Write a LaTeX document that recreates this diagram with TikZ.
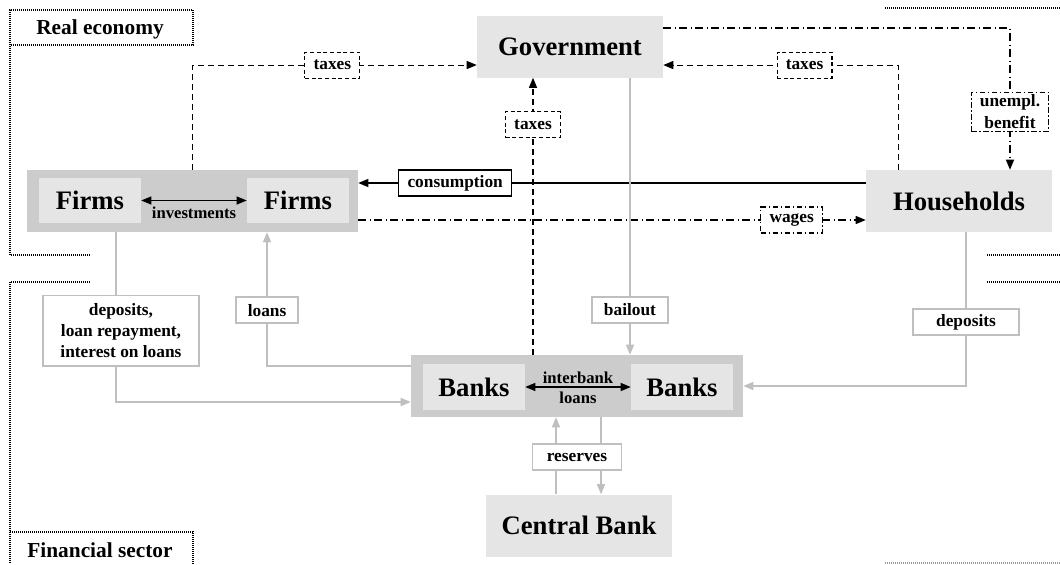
\documentclass[tikz,border=0pt]{standalone}
\usepackage{fontspec}
\setmainfont{Liberation Serif}
\usepackage{tikz}
\usetikzlibrary{arrows.meta}

\tikzset{
  agent/.style={fill=black!10, inner sep=0pt, minimum width=139.5pt, minimum height=46.5pt,
                font=\fontsize{20}{24}\selectfont\bfseries},
  sectorbox/.style={fill=black!20, inner sep=0pt, minimum height=46.5pt},
  subagent/.style={fill=black!10, inner sep=0pt, minimum width=76.5pt, minimum height=34pt,
                font=\fontsize{20}{24}\selectfont\bfseries},
  flowlabel/.style={fill=white, inner xsep=6.5pt, inner ysep=2pt, minimum height=19.5pt, align=center,
                font=\fontsize{13}{16}\selectfont\bfseries},
  taxline/.style={line width=0.8pt, dash pattern=on 4.5pt off 3pt, -{Triangle[length=7.5pt,width=6pt]}},
  taxlabel/.style={flowlabel, draw, line width=0.8pt, dash pattern=on 3pt off 2pt},
  benline/.style={line width=0.8pt, dash pattern=on 6pt off 2.5pt on 1pt off 2.5pt, -{Triangle[length=7.5pt,width=6pt]}},
  benlabel/.style={flowlabel, draw, line width=0.8pt, dash pattern=on 4pt off 2pt on 1pt off 2pt},
  goodsline/.style={line width=0.8pt, -{Triangle[length=7.5pt,width=6pt]}},
  goodslabel/.style={flowlabel, draw, line width=0.8pt},
  moneyline/.style={draw=black!25, line width=1pt, -{Triangle[length=7.5pt,width=6pt]}},
  moneylabel/.style={flowlabel, draw=black!25, line width=1pt},
  sectorline/.style={line width=0.8pt, dash pattern=on 0.75pt off 0.75pt},
  sectorname/.style={font=\fontsize{16}{19}\selectfont\bfseries}
}

\begin{document}
\begin{tikzpicture}[x=0.75pt, y=-0.75pt]
  \useasboundingbox (0,0) rectangle (1060,564);

  % sectors
  \draw [sectorline] (90,255) -- (10,255) -- (10,10) -- (193,10) -- (193,45) -- (10,45);   %real economy
  \node [sectorname] (real) at (100,29) {Real economy};
  \draw [sectorline] (885,8) -- (1060,8);
  \draw [sectorline] (987,255) -- (1060,255);
  \draw [sectorline] (90,282) -- (10,282) -- (10,564);                                       %financial sector
  \draw [sectorline] (10,532) -- (193,532) -- (193,564);
  \node [sectorname] (fin) at (100,550) {Financial sector};
  \draw [sectorline] (987,282) -- (1060,282);
  \draw [sectorline, black!40] (885,563) -- (1060,563);

  % agents
  \node [agent] (gov) at (570,46.5)  {Government};
  \node [agent] (hh)  at (959,201)   {Households};
  \node [agent] (cb)  at (579,525.5) {Central Bank};
  \node [sectorbox, minimum width=248.25pt] (firms) at (192.5,201) {};
  \node [subagent] (firmsA) at (90,200.5)  {Firms};
  \node [subagent] (firmsB) at (298,200.5) {Firms};
  \node [sectorbox, minimum width=249pt] (banks) at (577,386) {};
  \node [subagent] (banksA) at (474,387) {Banks};
  \node [subagent] (banksB) at (682,387) {Banks};

  % within sectors
  \draw [line width=0.8pt, {Triangle[length=7.5pt,width=6pt]}-{Triangle[length=7.5pt,width=6pt]}] (firmsA) -- (firmsB)
        node [midway, below=1pt, font=\fontsize{12.5}{15}\selectfont\bfseries] (inv) {investments};
  \draw [line width=0.8pt, {Triangle[length=7.5pt,width=6pt]}-{Triangle[length=7.5pt,width=6pt]}] (banksA) -- (banksB);
  \node [align=center, inner sep=0pt, font=\fontsize{12.5}{15}\selectfont\bfseries] (ibl) at (578,387.5) {interbank\\loans};

  % taxes
  \draw [taxline] (firms.north) |- ([yshift=-13.9pt]gov.west)
        node [taxlabel, pos=0.746] (taxF) {taxes};
  \draw [taxline] ([xshift=24.75pt]hh.north west) |- ([yshift=-13.9pt]gov.east)
        node [taxlabel, pos=0.70] (taxH) {taxes};
  \coordinate (tb) at ([xshift=-33pt]banks.north);
  \draw [taxline] (tb) -- (tb |- gov.south)
        node [taxlabel, pos=0.83] (taxB) {taxes};

  % goods and labour
  \draw [goodsline] ([yshift=13.5pt]hh.west) -- ([yshift=13.5pt]firms.east)
        node [goodslabel, pos=0.809] (cons) {consumption};
  \draw [benline] ([yshift=-14.25pt]firms.east) -- ([yshift=-14.25pt]hh.west)
        node [benlabel, pos=0.854] (wag) {wages};
  \draw [benline] ([yshift=13.9pt]gov.east) -| ([xshift=38.25pt]hh.north)
        node [benlabel, pos=0.795] (ben) {unempl.\\benefit};

  % money
  \coordinate (bo) at ([xshift=45pt]gov.south);
  \draw [moneyline] (bo) -- (bo |- banks.north)
        node [moneylabel, pos=0.838, minimum width=57pt] (bail) {bailout};
  \draw [moneyline] ([xshift=5.25pt]hh.south) |- (banks.east)
        node [moneylabel, pos=0.292, minimum width=79.5pt] (depH) {deposits};
  \draw [moneyline] ([xshift=-57.4pt]firms.south) |- ([yshift=-12pt]banks.west)
        node [moneylabel, pos=0.29, xshift=3.75pt, minimum width=117pt, minimum height=53pt] (depF) {deposits,\\loan repayment,\\interest on loans};
  \draw [moneyline] ([yshift=15pt]banks.west) -| ([xshift=55.9pt]firms.south)
        node [moneylabel, pos=0.709, minimum width=46.5pt] (lns) {loans};
  \coordinate (ru) at ([xshift=-17.25pt]cb.north);
  \coordinate (rd) at ([xshift=16.5pt]cb.north);
  \draw [moneyline] (ru) -- (ru |- banks.south);
  \draw [moneyline] (rd |- banks.south) -- (rd);
  \node [moneylabel, minimum width=67pt] (res) at (577,457) {reserves};
\end{tikzpicture}
\end{document}
